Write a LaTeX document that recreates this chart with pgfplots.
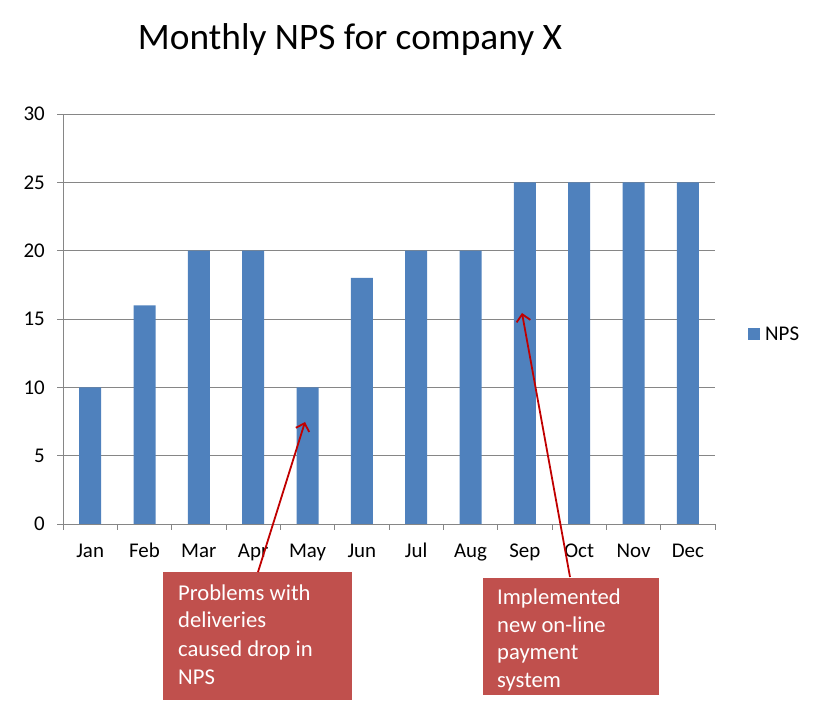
\documentclass[border=0pt]{standalone}
\usepackage{pgfplots}
\pgfplotsset{compat=1.18}
\usepackage{fontspec}
\setmainfont{Carlito}
\usetikzlibrary{arrows.meta}
\definecolor{barblue}{HTML}{4F81BD}
\definecolor{boxred}{HTML}{C0504D}
\definecolor{arrred}{HTML}{C00000}
\definecolor{gridgray}{HTML}{868686}
\begin{document}
\begin{tikzpicture}[x=1bp,y=1bp]
\useasboundingbox (0,0) rectangle (830,710);
\begin{axis}[
  at={(63bp,186bp)}, anchor=south west,
  scale only axis, width=652bp, height=410bp,
  xmin=-0.5, xmax=11.5, ymin=0, ymax=30,
  enlargelimits=false,
  ybar, bar width=22bp,
  axis x line*=bottom, axis y line*=left,
  axis line style={gridgray, -, line width=0.8bp},
  xtick={-0.5,0.5,...,11.5}, xticklabels={},
  extra x ticks={0,...,11},
  extra x tick labels={Jan,Feb,Mar,Apr,May,Jun,Jul,Aug,Sep,Oct,Nov,Dec},
  extra x tick style={major tick length=0pt, xticklabel style={anchor=base, yshift=-34bp, inner sep=0pt}},
  ytick={0,5,...,30},
  ymajorgrids, grid style={gridgray, line width=0.8bp},
  tick align=outside, major tick length=6bp,
  tick style={gridgray, line width=0.8bp},
  yticklabel style={anchor=east, inner sep=0pt, xshift=-12bp},
  ticklabel style={font=\fontsize{21}{25}\selectfont},
  /pgf/number format/assume math mode=true,
  legend entries={NPS},
  legend style={at={(1,0.463)}, anchor=west, xshift=33bp, draw=none, fill=none,
    inner sep=0pt, font=\fontsize{21}{25}\selectfont},
  legend image code/.code={\fill[barblue] (0bp,-6bp) rectangle (12bp,6bp); \path (15bp,0bp);},
]
\addplot[fill=barblue, draw=none] coordinates {(0,10)(1,16)(2,20)(3,20)(4,10)(5,18)(6,20)(7,20)(8,25)(9,25)(10,25)(11,25)};
\end{axis}
\node[font=\fontsize{37.5}{44}\selectfont, anchor=base, inner sep=0pt] at (350,660) {Monthly NPS for company X};
% annotation boxes
\fill[boxred] (163,10) rectangle (352,138);
\fill[boxred] (483,15) rectangle (659,132);
\begin{scope}[every node/.style={anchor=base west, inner sep=0pt, text=white, font=\fontsize{22.7}{27}\selectfont}]
\node at (178,109) {Problems with};
\node at (178,82) {deliveries};
\node at (178,53) {caused drop in};
\node at (178,25) {NPS};
\node at (497,105) {Implemented};
\node at (497,77) {new on-line};
\node at (497,50) {payment};
\node at (497,22) {system};
\end{scope}
\draw[arrred, line width=1.8bp, -{Straight Barb[length=7bp,width=14bp,line width=1.8bp]}] (258,138) -- (305,288);
\draw[arrred, line width=1.8bp, -{Straight Barb[length=7bp,width=14bp,line width=1.8bp]}] (570,133) -- (522,397);
\end{tikzpicture}
\end{document}
